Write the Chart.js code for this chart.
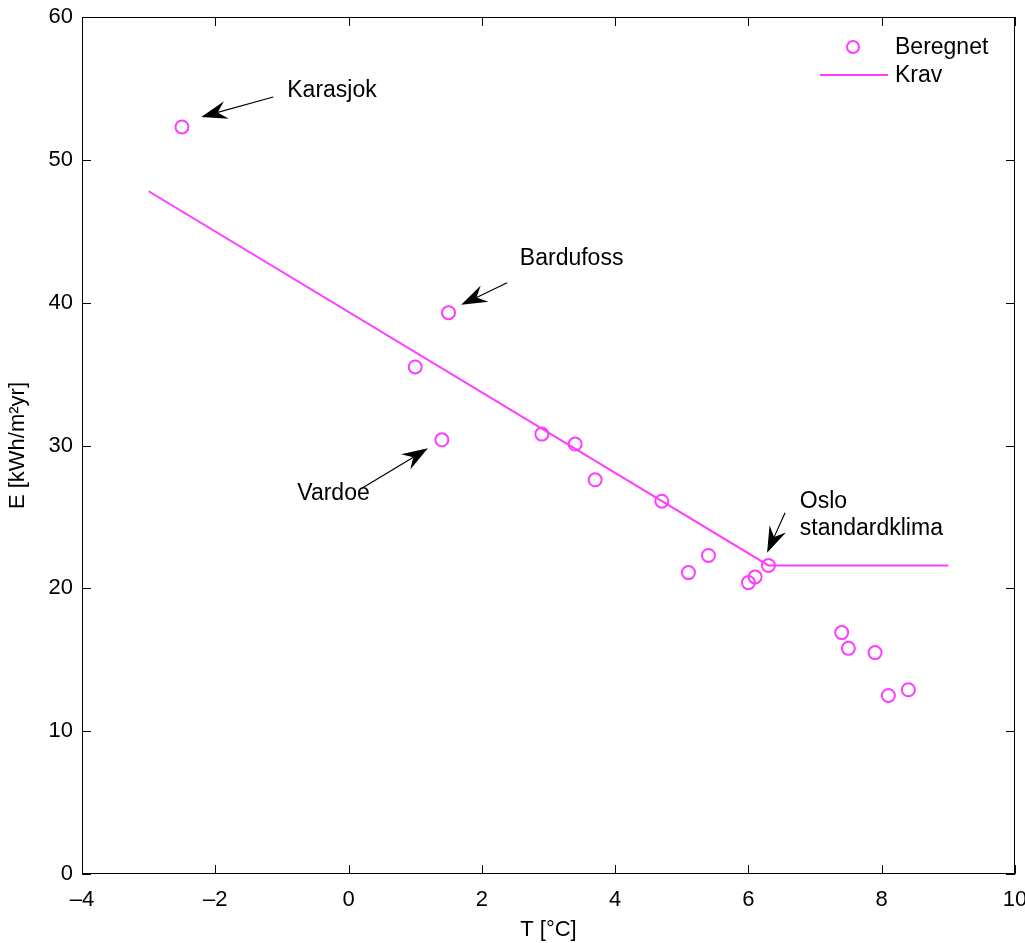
<!DOCTYPE html>
<html>
<head>
<meta charset="utf-8">
<script src="https://cdn.jsdelivr.net/npm/chart.js@4/dist/chart.umd.min.js"></script>
<style>
  body { margin: 0; background: #fff; }
  #wrap { width: 1025px; height: 943px; }
</style>
</head>
<body>
<div id="wrap"><canvas id="chart"></canvas></div>
<script>
// data
const T_beregnet = [-2.5, 1.5, 1.0, 1.4, 2.9, 3.4, 3.7, 4.7, 5.1, 5.4, 6.0, 6.1, 6.3, 7.4, 7.5, 7.9, 8.1, 8.4];
const E_beregnet = [52.3, 39.3, 35.5, 30.4, 30.8, 30.1, 27.6, 26.1, 21.1, 22.3, 20.4, 20.8, 21.6, 16.9, 15.8, 15.5, 12.5, 12.9];
const T_krav = [-3, 6.3, 9];
const E_krav = [47.8, 21.6, 21.6];

// annotations (data units): text lines, text anchor, arrow tail, arrow head
const noteText = [['Karasjok'], ['Bardufoss'], ['Vardoe'], ['Oslo', 'standardklima']];
const noteAt = [[-0.92, 54.86], [2.57, 43.06], [-0.77, 26.61], [6.77, 26.06]];
const arrowFrom = [[-1.13, 54.4], [2.38, 41.4], [0.2, 27.0], [6.55, 25.3]];
const arrowTo = [[-2.21, 53.0], [1.69, 39.85], [1.19, 29.8], [6.28, 22.5]];

const magenta = '#ff3cff';
const family = '"Liberation Sans", Arial, sans-serif';
const font = '23px ' + family;

// 注释、图例、边框和向内的刻度
const matlabLook = {
    id: 'matlabLook',
    afterDraw(chart) {
        const { ctx, chartArea: a, scales: { x, y } } = chart;
        ctx.save();

        // box
        ctx.strokeStyle = '#000';
        ctx.lineWidth = 1;
        ctx.strokeRect(a.left + 0.5, a.top + 0.5, a.right - a.left - 1, a.bottom - a.top - 1);

        // inward ticks
        ctx.beginPath();
        x.ticks.forEach(t => {
            const px = Math.round(x.getPixelForValue(t.value)) + 0.5;
            ctx.moveTo(px, a.bottom); ctx.lineTo(px, a.bottom - 9);
            ctx.moveTo(px, a.top); ctx.lineTo(px, a.top + 9);
        });
        y.ticks.forEach(t => {
            const py = Math.round(y.getPixelForValue(t.value)) + 0.5;
            ctx.moveTo(a.left, py); ctx.lineTo(a.left + 9, py);
            ctx.moveTo(a.right, py); ctx.lineTo(a.right - 9, py);
        });
        ctx.stroke();

        // annotations
        ctx.fillStyle = '#000';
        ctx.font = font;
        ctx.textBaseline = 'middle';
        ctx.textAlign = 'left';
        noteText.forEach((lines, i) => {
            const tx = x.getPixelForValue(noteAt[i][0]);
            const ty = y.getPixelForValue(noteAt[i][1]);
            lines.forEach((s, j) => ctx.fillText(s, tx, ty + j * 27));

            const x0 = x.getPixelForValue(arrowFrom[i][0]);
            const y0 = y.getPixelForValue(arrowFrom[i][1]);
            const x1 = x.getPixelForValue(arrowTo[i][0]);
            const y1 = y.getPixelForValue(arrowTo[i][1]);
            const ang = Math.atan2(y1 - y0, x1 - x0);
            const len = 26, half = 9, notch = 17;
            const ux = Math.cos(ang), uy = Math.sin(ang);
            ctx.beginPath();
            ctx.moveTo(x0, y0);
            ctx.lineTo(x1 - ux * notch, y1 - uy * notch);
            ctx.lineWidth = 1.2;
            ctx.stroke();
            ctx.beginPath();
            ctx.moveTo(x1, y1);
            ctx.lineTo(x1 - ux * len - uy * half, y1 - uy * len + ux * half);
            ctx.lineTo(x1 - ux * notch, y1 - uy * notch);
            ctx.lineTo(x1 - ux * len + uy * half, y1 - uy * len - ux * half);
            ctx.closePath();
            ctx.fill();
        });

        // legend
        ctx.strokeStyle = magenta;
        ctx.lineWidth = 2;
        ctx.beginPath();
        ctx.arc(853, 47, 6, 0, Math.PI * 2);
        ctx.stroke();
        ctx.beginPath();
        ctx.moveTo(820, 75); ctx.lineTo(888, 75);
        ctx.stroke();
        ctx.fillStyle = '#000';
        ctx.fillText(chart.data.datasets[0].label, 895, 48);
        ctx.fillText(chart.data.datasets[1].label, 895, 76);

        ctx.restore();
    }
};

function noLabelPadding(scale) {
    scale.paddingTop = 0;
    scale.paddingBottom = 0;
    scale.paddingLeft = 0;
    scale.paddingRight = 0;
}

const ctx = document.getElementById('chart').getContext('2d');
new Chart(ctx, {
    data: {
        datasets: [{
            type: 'scatter',
            label: 'Beregnet',
            data: T_beregnet.map((t, i) => ({ x: t, y: E_beregnet[i] })),
            borderColor: magenta,
            backgroundColor: 'rgba(0,0,0,0)',
            pointRadius: 6.5,
            pointBorderWidth: 2,
            order: 1
        }, {
            type: 'line',
            label: 'Krav',
            data: T_krav.map((t, i) => ({ x: t, y: E_krav[i] })),
            borderColor: magenta,
            borderWidth: 2,
            pointRadius: 0,
            tension: 0,
            fill: false,
            order: 2
        }]
    },
    options: {
        responsive: true,
        maintainAspectRatio: false,
        animation: false,
        layout: { padding: { top: 17, right: 10, left: 0, bottom: 0 } },
        plugins: {
            legend: { display: false },
            tooltip: { enabled: false }
        },
        scales: {
            x: {
                type: 'linear',
                min: -4, max: 10,
                grid: { display: false, drawTicks: false },
                border: { display: false },
                ticks: {
                    stepSize: 2,
                    padding: 13,
                    color: '#000',
                    maxRotation: 0,
                    font: { family: family, size: 22 },
                    callback: v => String(v).replace('-', '\u2013')
                },
                title: {
                    display: true,
                    text: 'T [\u00b0C]',
                    color: '#000',
                    padding: { top: 0, bottom: 0 },
                    font: { family: family, size: 22 }
                },
                afterFit(scale) { scale.height = 69; noLabelPadding(scale); }
            },
            y: {
                type: 'linear',
                min: 0, max: 60,
                grid: { display: false, drawTicks: false },
                border: { display: false },
                ticks: {
                    stepSize: 10,
                    padding: 9,
                    color: '#000',
                    font: { family: family, size: 22 }
                },
                title: {
                    display: true,
                    text: 'E [kWh/m\u00b2yr]',
                    color: '#000',
                    padding: { top: 5, bottom: 0 },
                    font: { family: family, size: 22 }
                },
                afterFit(scale) { scale.width = 82; noLabelPadding(scale); }
            }
        }
    },
    plugins: [matlabLook]
});
</script>
</body>
</html>
